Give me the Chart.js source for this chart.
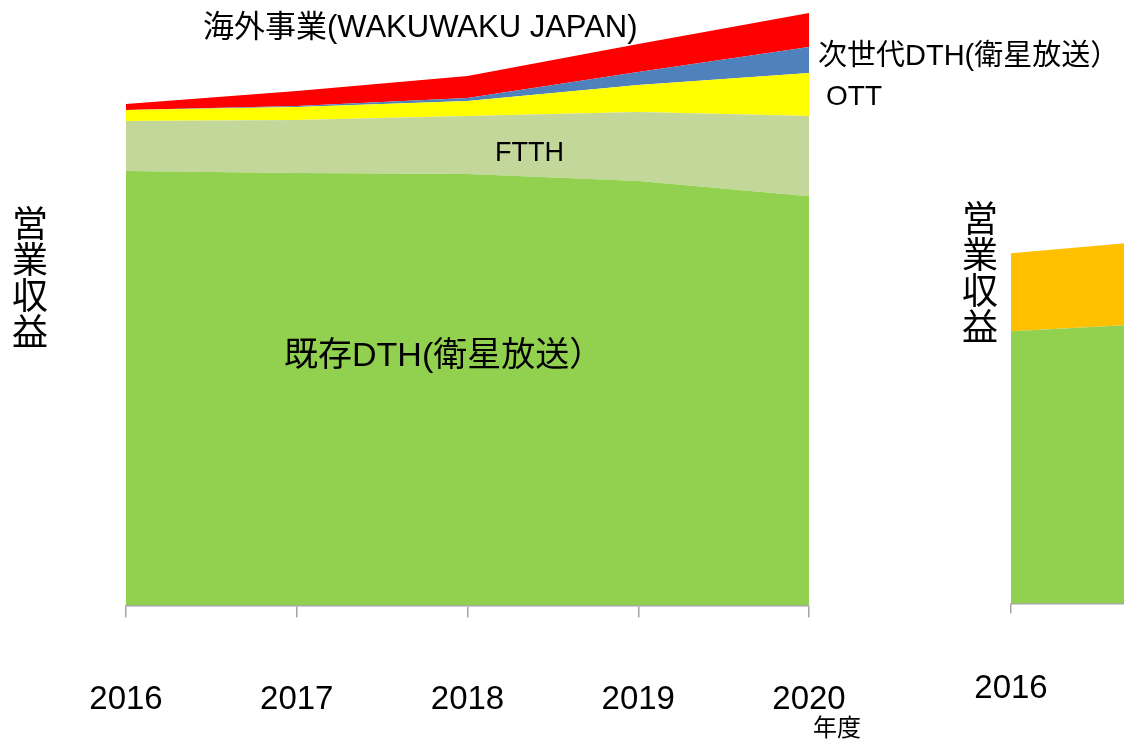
<!DOCTYPE html>
<html lang="ja">
<head>
	<meta charset="UTF-8">
	<title>営業収益</title>
	<script src="https://cdn.jsdelivr.net/npm/chart.js"></script>
	<style>
    	html, body {
        	margin: 0;
        	padding: 0;
        	background: #ffffff;
        	overflow: hidden;
        	width: 1124px;
        	height: 739px;
    	}
    	.wrap {
        	position: absolute;
        	left: 0;
        	top: 0;
        	height: 800px;
    	}
    	#mainWrap { width: 1124px; }
    	#sideWrap { width: 1400px; }
	</style>
</head>
<body>
	<div class="wrap" id="mainWrap"><canvas id="mainChart"></canvas></div>
	<div class="wrap" id="sideWrap"><canvas id="sideChart"></canvas></div>

	<script>
    	// values (arbitrary units, stacked)
    	const years = ['2016', '2017', '2018', '2019', '2020'];
    	const existingDth = [434, 432, 431, 424, 409];
    	const ftth = [50, 53, 58, 69, 80];
    	const ott = [11, 13, 15, 27, 43];
    	const nextDth = [0, 1, 3, 13, 26];
    	const overseas = [6, 15, 22, 28, 34];

    	// second (cut off) chart on the right
    	const sideYears = ['2016', '2017'];
    	const sideBase = [272, 281];
    	const sideOther = [78, 84];

    	const CJK = '"Noto Sans CJK JP", "Noto Sans", sans-serif';
    	const MIXED = '"Liberation Sans", "Noto Sans CJK JP", sans-serif';
    	const AXIS_GREY = '#A6A6A6';

    	const area = (label, data, color, fill) => ({
        	label,
        	data,
        	backgroundColor: color,
        	borderColor: color,
        	borderWidth: 0,
        	pointRadius: 0,
        	pointHoverRadius: 0,
        	tension: 0,
        	fill
    	});

    	const xAxis = (tickLength, padding) => ({
        	type: 'category',
        	offset: false,
        	grid: {
            	display: true,
            	drawOnChartArea: false,
            	drawTicks: true,
            	tickLength,
            	color: AXIS_GREY,
            	lineWidth: 1.5
        	},
        	border: { display: true, color: AXIS_GREY, width: 1.5 },
        	ticks: {
            	color: '#000',
            	padding,
            	maxRotation: 0,
            	autoSkip: false,
            	font: { family: '"Liberation Sans", Arial, sans-serif', size: 33, lineHeight: 1.2 }
        	}
    	});

    	const yAxis = max => ({
        	display: false,
        	stacked: true,
        	min: 0,
        	max
    	});

    	function vertical(ctx, text, x, y0, step, size) {
        	ctx.font = `${size}px ${CJK}`;
        	ctx.textAlign = 'center';
        	ctx.textBaseline = 'middle';
        	[...text].forEach((ch, i) => ctx.fillText(ch, x, y0 + i * step));
    	}

    	// text labels of the main chart
    	const mainLabels = {
        	id: 'mainLabels',
        	afterDraw(chart) {
            	const ctx = chart.ctx;
            	ctx.save();
            	ctx.fillStyle = '#000';
            	ctx.textBaseline = 'middle';
            	ctx.textAlign = 'left';

            	ctx.font = `31px ${MIXED}`;
            	ctx.fillText('海外事業(WAKUWAKU JAPAN)', 203, 28);

            	ctx.font = `29px ${MIXED}`;
            	ctx.fillText('次世代DTH(衛星放送）', 818, 57);

            	ctx.font = `28px ${MIXED}`;
            	ctx.fillText('OTT', 826, 97);

            	ctx.font = `27px ${MIXED}`;
            	ctx.fillText('FTTH', 495, 154);

            	ctx.font = `34px ${MIXED}`;
            	ctx.fillText('既存DTH(衛星放送）', 284, 357);

            	ctx.font = `24px ${CJK}`;
            	ctx.fillText('年度', 813, 727);

            	vertical(ctx, '営業収益', 30, 223, 36, 36);
            	ctx.restore();
        	}
    	};

    	const sideLabels = {
        	id: 'sideLabels',
        	afterDraw(chart) {
            	const ctx = chart.ctx;
            	ctx.save();
            	ctx.fillStyle = '#000';
            	vertical(ctx, '営業収益', 980, 218, 36, 36);
            	ctx.restore();
        	}
    	};

    	new Chart(document.getElementById('mainChart'), {
        	type: 'line',
        	data: {
            	labels: years,
            	datasets: [
                	area('既存DTH(衛星放送)', existingDth, '#92D050', 'origin'),
                	area('FTTH', ftth, '#C4D79B', '-1'),
                	area('OTT', ott, '#FFFF00', '-1'),
                	area('次世代DTH(衛星放送)', nextDth, '#4F81BD', '-1'),
                	area('海外事業(WAKUWAKU JAPAN)', overseas, '#FF0000', '-1')
            	]
        	},
        	options: {
            	responsive: true,
            	maintainAspectRatio: false,
            	animation: false,
            	layout: { padding: { left: 126, right: 315, top: 5, bottom: 17 } },
            	plugins: { legend: { display: false }, tooltip: { enabled: false } },
            	scales: { x: xAxis(12, 63), y: yAxis(600) }
        	},
        	plugins: [mainLabels]
    	});

    	new Chart(document.getElementById('sideChart'), {
        	type: 'line',
        	data: {
            	labels: sideYears,
            	datasets: [
                	area('既存', sideBase, '#92D050', 'origin'),
                	area('その他', sideOther, '#FFC000', '-1')
            	]
        	},
        	options: {
            	responsive: true,
            	maintainAspectRatio: false,
            	animation: false,
            	layout: { padding: { left: 1011, right: 218, top: 3, bottom: 35 } },
            	plugins: { legend: { display: false }, tooltip: { enabled: false } },
            	scales: { x: xAxis(10, 56), y: yAxis(600) }
        	},
        	plugins: [sideLabels]
    	});
	</script>
</body>
</html>
